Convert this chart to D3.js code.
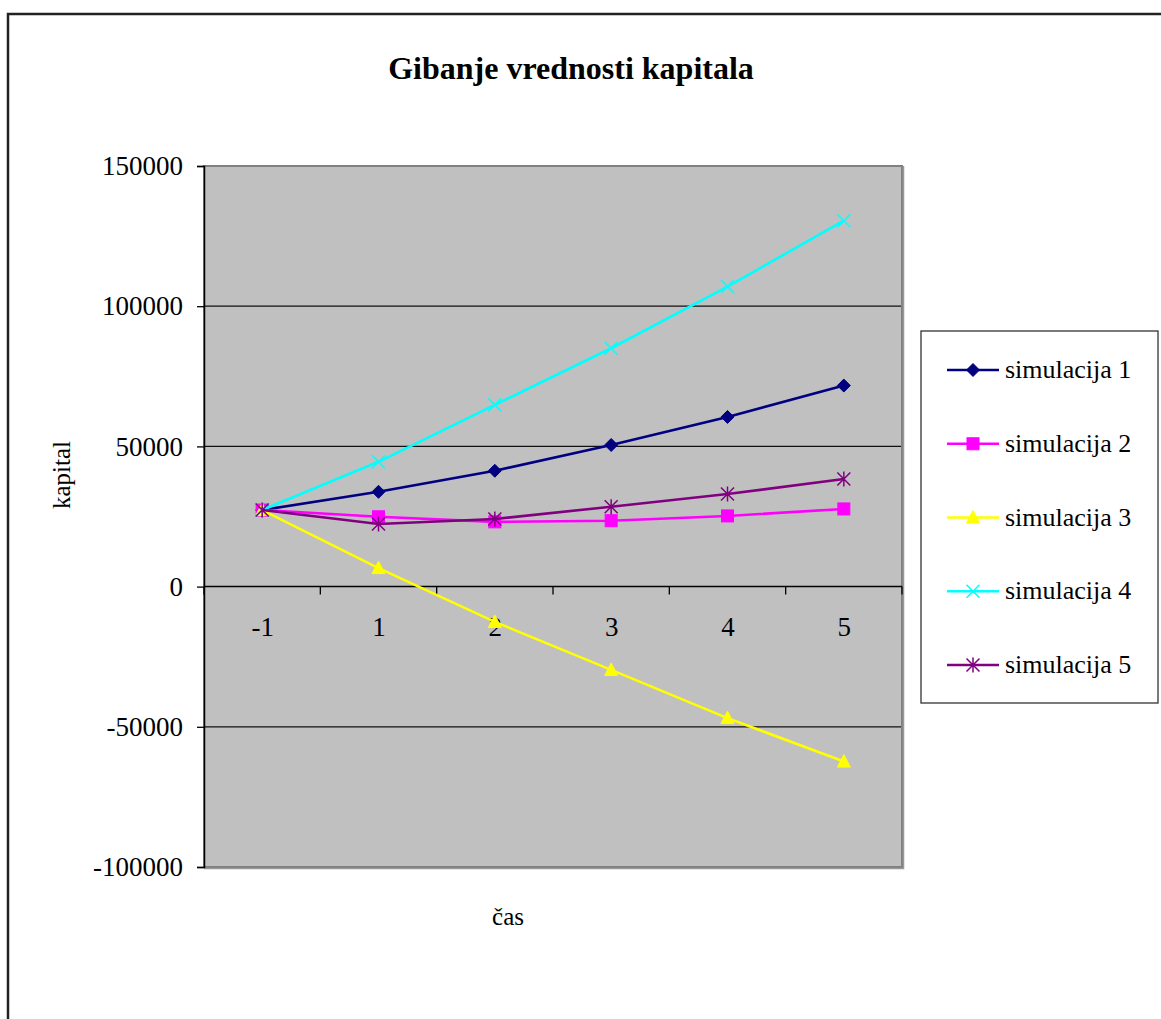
<!DOCTYPE html>
<html>
<head>
<meta charset="utf-8">
<script src="https://cdn.jsdelivr.net/npm/d3@7"></script>
<style>
  html, body { margin: 0; padding: 0; background: #fff; }
  svg { display: block; }
</style>
</head>
<body>
<svg id="chart" width="1161" height="1019"></svg>
<script>
// Capital value per period for each simulation
const periods = ["-1", "1", "2", "3", "4", "5"];
const seriesNames = ["simulacija 1", "simulacija 2", "simulacija 3", "simulacija 4", "simulacija 5"];
const sim1 = [27300, 33800, 41300, 50500, 60500, 71700];
const sim2 = [27300, 24900, 23100, 23500, 25200, 27700];
const sim3 = [27300, 6600, -12600, -29700, -46900, -62400];
const sim4 = [27300, 44500, 64800, 85000, 107000, 130500];
const sim5 = [27300, 22300, 24100, 28500, 33000, 38400];
const yTicks = [-100000, -50000, 0, 50000, 100000, 150000];

const seriesValues = [sim1, sim2, sim3, sim4, sim5];
const colors = ["#000080", "#FF00FF", "#FFFF00", "#00FFFF", "#800080"];
const markers = ["diamond", "square", "triangle", "x", "star"];
const serif = "'Liberation Serif', 'Times New Roman', serif";

const svg = d3.select("#chart");
const plot = { left: 204, top: 166, right: 902, bottom: 867 };

// outer chart frame
svg.append("rect")
  .attr("x", 8).attr("y", 14).attr("width", 1170).attr("height", 1030)
  .attr("fill", "none").attr("stroke", "#222").attr("stroke-width", 2.5);

// title
svg.append("text")
  .attr("x", 571).attr("y", 79)
  .attr("text-anchor", "middle")
  .style("font-family", serif)
  .style("font-size", "32px").style("font-weight", "bold")
  .text("Gibanje vrednosti kapitala");

const x = d3.scalePoint().domain(periods).range([plot.left, plot.right]).padding(0.5);
const xBand = d3.scaleBand().domain(periods).range([plot.left, plot.right]);
const y = d3.scaleLinear().domain([-100000, 150000]).range([plot.bottom, plot.top]);

// plot background
svg.append("rect")
  .attr("x", plot.left).attr("y", plot.top)
  .attr("width", plot.right - plot.left).attr("height", plot.bottom - plot.top)
  .attr("fill", "#C0C0C0");

// horizontal gridlines
svg.append("g").selectAll("line")
  .data(yTicks.filter(t => t !== 0 && t !== -100000 && t !== 150000))
  .join("line")
  .attr("x1", plot.left).attr("x2", plot.right)
  .attr("y1", d => y(d)).attr("y2", d => y(d))
  .attr("stroke", "#111").attr("stroke-width", 1.3);

// plot area border
svg.append("rect")
  .attr("x", plot.left).attr("y", plot.top)
  .attr("width", plot.right - plot.left).attr("height", plot.bottom - plot.top)
  .attr("fill", "none").attr("stroke", "#808080").attr("stroke-width", 2);
svg.append("path")
  .attr("d", `M${plot.right + 1.5},${plot.top} V${plot.bottom + 1.5} H${plot.left}`)
  .attr("fill", "none").attr("stroke", "#999").attr("stroke-width", 1.5);

// y axis
const yAxis = svg.append("g")
  .attr("transform", `translate(${plot.left},0)`)
  .call(d3.axisLeft(y).tickValues(yTicks).tickSize(7).tickPadding(14).tickFormat(d => String(d)));
yAxis.select(".domain").attr("stroke", "#000").attr("stroke-width", 1.5);
yAxis.selectAll(".tick line").attr("stroke", "#000").attr("stroke-width", 1.3);
yAxis.selectAll(".tick text")
  .style("font-family", serif)
  .style("font-size", "27px").attr("fill", "#000");

// x axis along zero, ticks between categories
const x0 = y(0);
svg.append("line")
  .attr("x1", plot.left).attr("x2", plot.right)
  .attr("y1", x0).attr("y2", x0)
  .attr("stroke", "#000").attr("stroke-width", 1.5);
const bounds = periods.map(p => xBand(p)).concat([xBand(periods[periods.length - 1]) + xBand.bandwidth()]);
svg.append("g").selectAll("line")
  .data(bounds)
  .join("line")
  .attr("x1", d => d).attr("x2", d => d)
  .attr("y1", x0).attr("y2", x0 + 8)
  .attr("stroke", "#000").attr("stroke-width", 1.3);
const xAxis = svg.append("g")
  .attr("transform", `translate(0,${x0})`)
  .call(d3.axisBottom(x).tickSize(0).tickPadding(30));
xAxis.select(".domain").remove();
xAxis.selectAll(".tick text")
  .style("font-family", serif)
  .style("font-size", "27px").attr("fill", "#000");

// axis titles
svg.append("text")
  .attr("transform", "translate(70,475) rotate(-90)")
  .attr("text-anchor", "middle")
  .style("font-family", serif)
  .style("font-size", "25px")
  .text("kapital");
svg.append("text")
  .attr("x", 508).attr("y", 925)
  .attr("text-anchor", "middle")
  .style("font-family", serif)
  .style("font-size", "25px")
  .text("čas");

// marker shapes
function drawMarker(g, type, color, cx, cy) {
  const s = 6.5;
  if (type === "diamond") {
    g.append("path").attr("d", `M${cx},${cy - s} L${cx + s},${cy} L${cx},${cy + s} L${cx - s},${cy} Z`)
      .attr("fill", color).attr("stroke", color).attr("stroke-width", 1);
  } else if (type === "square") {
    g.append("rect").attr("x", cx - 6).attr("y", cy - 6).attr("width", 12).attr("height", 12)
      .attr("fill", color).attr("stroke", color).attr("stroke-width", 1);
  } else if (type === "triangle") {
    g.append("path").attr("d", `M${cx},${cy - 7} L${cx + 6.5},${cy + 5.5} L${cx - 6.5},${cy + 5.5} Z`)
      .attr("fill", color).attr("stroke", color).attr("stroke-width", 1);
  } else if (type === "x") {
    g.append("path").attr("d", `M${cx - s},${cy - s} L${cx + s},${cy + s} M${cx + s},${cy - s} L${cx - s},${cy + s}`)
      .attr("fill", "none").attr("stroke", color).attr("stroke-width", 1.5);
  } else if (type === "star") {
    g.append("path").attr("d", `M${cx - s},${cy - s} L${cx + s},${cy + s} M${cx + s},${cy - s} L${cx - s},${cy + s} M${cx},${cy - s - 1} L${cx},${cy + s + 1}`)
      .attr("fill", "none").attr("stroke", color).attr("stroke-width", 1.5);
  }
}

// series lines and markers
const line = d3.line().x((d, i) => x(periods[i])).y(d => y(d));
seriesValues.forEach((vals, si) => {
  const g = svg.append("g");
  g.append("path").datum(vals)
    .attr("d", line)
    .attr("fill", "none").attr("stroke", colors[si]).attr("stroke-width", 2.6);
  vals.forEach((v, i) => drawMarker(g, markers[si], colors[si], x(periods[i]), y(v)));
});

// legend
const legend = svg.append("g");
legend.append("rect")
  .attr("x", 921).attr("y", 331).attr("width", 237).attr("height", 372)
  .attr("fill", "#fff").attr("stroke", "#333").attr("stroke-width", 1.3);
const legendY = d3.scalePoint().domain(seriesNames).range([370, 665]);
seriesNames.forEach((name, si) => {
  const ly = legendY(name);
  legend.append("line")
    .attr("x1", 947).attr("x2", 999).attr("y1", ly).attr("y2", ly)
    .attr("stroke", colors[si]).attr("stroke-width", 2.6);
  drawMarker(legend, markers[si], colors[si], 973, ly);
  legend.append("text")
    .attr("x", 1005).attr("y", ly + 8)
    .style("font-family", serif)
    .style("font-size", "26px")
    .text(name);
});
</script>
</body>
</html>
